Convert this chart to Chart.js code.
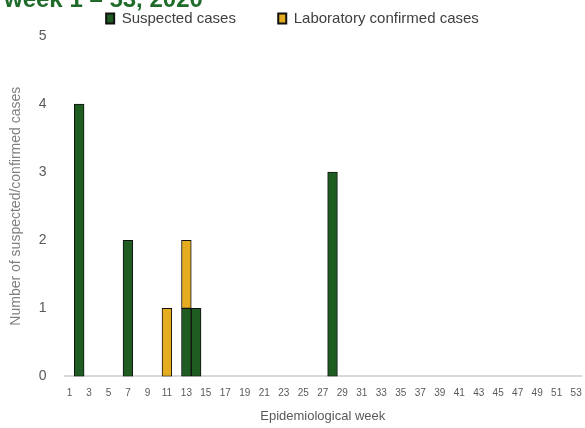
<!DOCTYPE html>
<html>
<head>
<script src="https://cdn.jsdelivr.net/npm/chart.js"></script>
<style>
  body { margin: 0; background: #fff; }
  #wrap { width: 585px; height: 428px; }
</style>
</head>
<body>
<div id="wrap"><canvas id="myChart"></canvas></div>
<script>
var weeks = [];
for (var w = 1; w <= 53; w++) weeks.push(String(w));

// cases per epidemiological week (only non-zero weeks listed)
var suspectedWeeks = [2, 7, 13, 14, 28];
var suspectedCounts = [4, 2, 1, 1, 3];
var labWeeks = [11, 13];
var labCounts = [1, 1];

var toSeries = (wk, cnt) => weeks.map(l => {
    var i = wk.indexOf(Number(l));
    return i < 0 ? 0 : cnt[i];
});

var cutTitle = {
    id: 'cutTitle',
    afterDraw: function (chart) {
        var ctx = chart.ctx;
        ctx.save();
        ctx.fillStyle = '#1e6b2a';
        ctx.font = 'bold 24px "Liberation Sans", Arial';
        ctx.textBaseline = 'alphabetic';
        ctx.fillText('week 1 \u2013 53, 2020', 4, 7);
        ctx.restore();
    }
};

var ctx = document.getElementById('myChart').getContext('2d');
new Chart(ctx, {
    type: 'bar',
    data: {
        labels: weeks,
        datasets: [{
            label: 'Suspected cases',
            data: toSeries(suspectedWeeks, suspectedCounts),
            backgroundColor: '#1e5c21',
            borderColor: '#111',
            borderWidth: 1,
            borderSkipped: false
        }, {
            label: 'Laboratory confirmed cases',
            data: toSeries(labWeeks, labCounts),
            backgroundColor: '#e5ac22',
            borderColor: '#111',
            borderWidth: 1,
            borderSkipped: false
        }]
    },
    options: {
        responsive: true,
        maintainAspectRatio: false,
        animation: false,
        datasets: { bar: { barPercentage: 1, categoryPercentage: 1 } },
        scales: {
            x: {
                stacked: true,
                grid: { display: false },
                border: { color: '#d9d9d9', width: 2 },
                ticks: {
                    color: '#595959',
                    font: { size: 10, family: 'Liberation Sans' },
                    maxRotation: 0,
                    autoSkip: false,
                    callback: function (v, i) { return i % 2 === 0 ? this.getLabelForValue(v) : ''; }
                },
                title: { display: true, text: 'Epidemiological week', color: '#595959', font: { size: 13, family: 'Liberation Sans' }, padding: { top: 6 } }
            },
            y: {
                stacked: true,
                min: 0,
                max: 5,
                grid: { display: false },
                border: { display: false },
                ticks: { stepSize: 1, color: '#595959', font: { size: 14, family: 'Liberation Sans' }, padding: 10 },
                title: { display: true, text: 'Number of suspected/confirmed cases', color: '#7f7f7f', font: { size: 14, family: 'Liberation Sans' } }
            }
        },
        plugins: {
            legend: {
                labels: {
                    color: '#404040',
                    boxWidth: 8,
                    boxHeight: 10,
                    font: { size: 15, family: 'Liberation Sans' },
                    padding: 9,
                    generateLabels: function (chart) {
                        var items = Chart.defaults.plugins.legend.labels.generateLabels(chart);
                        items[0].text = items[0].text + '        ';
                        items.forEach(it => { it.lineWidth = 2; it.strokeStyle = '#111'; });
                        return items;
                    }
                }
            },
            tooltip: { enabled: false }
        },
        layout: { padding: { left: 4, right: 4, top: 2, bottom: 0 } }
    },
    plugins: [cutTitle]
});
</script>
</body>
</html>
